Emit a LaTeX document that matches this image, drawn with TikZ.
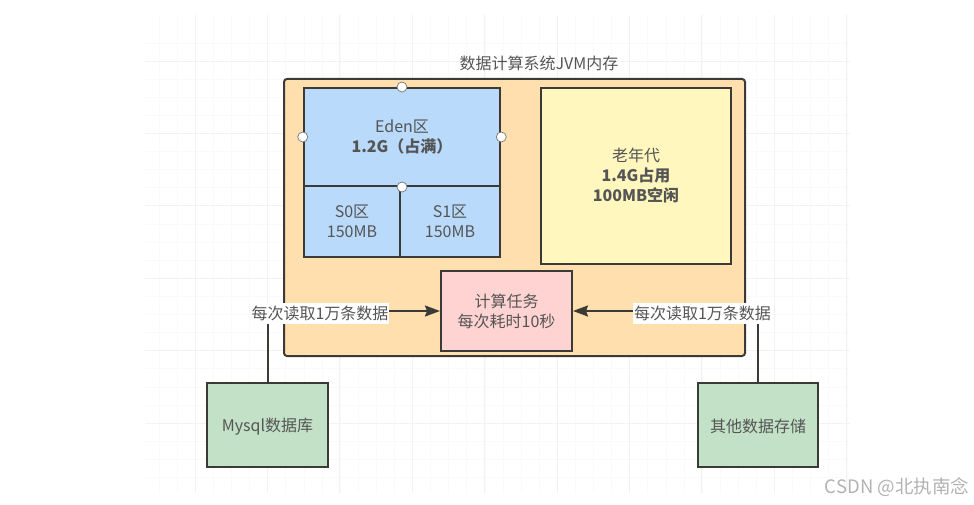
\documentclass[tikz,border=0pt]{standalone}
\usepackage{fontspec}
\setmainfont{Noto Sans CJK SC}
\usepackage{xcolor}
\usetikzlibrary{arrows,arrows.meta}

\definecolor{lineink}{HTML}{3C3A36}
\definecolor{textink}{HTML}{555555}
\definecolor{outerfill}{HTML}{FFDFAE}
\definecolor{edenfill}{HTML}{B9DAFB}
\definecolor{oldfill}{HTML}{FFF7BE}
\definecolor{taskfill}{HTML}{FFD3D2}
\definecolor{storefill}{HTML}{C3E1C6}

\begin{document}
\begin{tikzpicture}[x=1pt,y=-1pt,>={Stealth[length=15pt,width=11pt,inset=2pt]},
line width=2pt,every node/.style={font=\fontsize{16}{20}\selectfont,text=textink,align=center}]
\tikzset{
area/.style={draw=lineink,inner sep=0pt,rectangle,execute at begin node={\rule{0pt}{17pt}}},
handle/.style={circle,draw=lineink!70,fill=white,line width=.7pt,minimum size=10pt,inner sep=0pt},
readlabel/.style={fill=white,inner xsep=1pt,inner ysep=0pt,minimum height=21pt},
}
\useasboundingbox (0,0) rectangle (974,505);

% grid
\foreach \gx in {0,...,38} \draw[black!2,line width=.6pt] (159+18.1*\gx,15) -- (159+18.1*\gx,493);
\foreach \gy in {0,...,24} \draw[black!2,line width=.6pt] (145,42.9+18.1*\gy) -- (850,42.9+18.1*\gy);
\foreach \gx in {0,...,9} \draw[black!5,line width=.8pt] (195+72.4*\gx,15) -- (195+72.4*\gx,493);
\foreach \gy in {0,...,5} \draw[black!5,line width=.8pt] (145,61+72.4*\gy) -- (850,61+72.4*\gy);

\node (title) at (539,63) {数据计算系统JVM内存};
\node[area,fill=outerfill,rounded corners=3pt,minimum width=461pt,minimum height=277pt] (jvm) at (514.5,217.5) {};

\node[area,fill=edenfill,minimum width=196.5pt,minimum height=98pt] (eden) at (402,137) {Eden区\\\textbf{1.2G（占满）}};
\node[area,fill=edenfill,minimum width=96.5pt,minimum height=71pt] (s0) at (352,221.5) {S0区\\150MB};
\node[area,fill=edenfill,minimum width=100pt,minimum height=71pt] (s1) at (450,221.5) {S1区\\150MB};
\node[area,fill=oldfill,minimum width=190pt,minimum height=176pt] (old) at (636,176) {老年代\\\textbf{1.4G占用}\\\textbf{100MB空闲}};
\node[area,fill=taskfill,minimum width=131pt,minimum height=80pt] (task) at (506.5,311) {计算任务\\每次耗时10秒};
\node[area,fill=storefill,minimum width=121pt,minimum height=84pt] (mysql) at (267.5,425) {Mysql数据库};
\node[area,fill=storefill,minimum width=120pt,minimum height=84pt] (other) at (758,425) {其他数据存储};

\draw[->,draw=lineink] (mysql.north) |- (task.west);
\draw[->,draw=lineink] (other.north) |- (task.east);

\node[readlabel] (readl) at (320,313) {每次读取1万条数据};
\node[readlabel] (readr) at (702.5,313) {每次读取1万条数据};

\node[handle] (hn) at (eden.north) {};
\node[handle] (hs) at (eden.south) {};
\node[handle] (hw) at (eden.west) {};
\node[handle] (he) at (eden.east) {};

\node[text=black!30,font=\fontsize{18.5}{22}\selectfont] (mark) at (897,487) {CSDN @北执南念};
\end{tikzpicture}
\end{document}
